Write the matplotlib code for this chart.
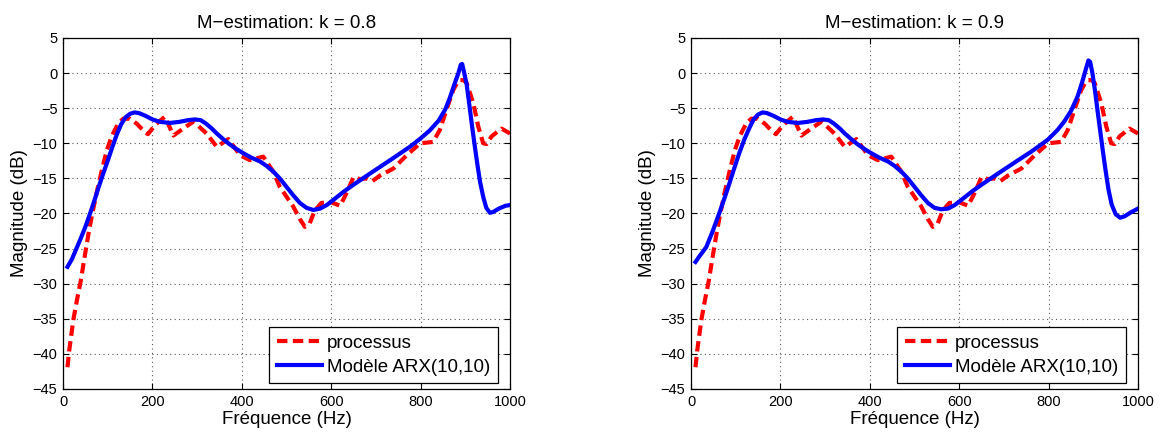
import matplotlib
matplotlib.use("Agg")
import matplotlib.pyplot as plt

plt.rcParams['font.family'] = ['Liberation Sans', 'DejaVu Sans']

# measured frequency response of the process (same in both panels)
freq_proc = [10, 14, 23, 31, 40, 47, 57, 64, 75, 87, 98, 109, 124, 135, 150, 165,
             180, 190, 206, 228, 247, 269, 292, 321, 344, 370, 396, 418, 448, 470,
             485, 515, 530, 541, 552, 563, 578, 600, 620, 635, 650, 664, 679, 692,
             709, 739, 769, 799, 828, 843, 858, 873, 881, 888, 896, 903, 918, 929,
             940, 948, 959, 981, 1000]
mag_proc = [-41.9, -39.5, -35.2, -32.4, -29.5, -26.7, -22.9, -20.5, -17.1, -13.8,
            -11.0, -9.0, -7.1, -6.5, -6.5, -7.2, -8.2, -8.7, -7.4, -6.2, -8.9, -7.9,
            -6.9, -8.6, -10.5, -9.4, -11.7, -12.4, -11.9, -14.0, -16.2, -19.0, -20.8,
            -21.9, -21.4, -19.6, -18.5, -18.4, -18.9, -17.0, -14.8, -15.1, -15.0,
            -15.4, -14.6, -13.6, -11.7, -10.0, -9.8, -8.1, -5.2, -2.4, -1.5, -1.0,
            -1.0, -1.4, -4.3, -7.6, -10.0, -10.1, -9.0, -7.9, -8.6]

# ARX(10,10) model, k = 0.8
freq_arx_08 = [10, 20, 30, 40, 50, 60, 70, 80, 90, 100, 110, 120, 130, 140, 150,
               160, 170, 185, 200, 217, 239, 260, 280, 295, 308, 320, 333, 344, 360,
               374, 390, 403, 420, 441, 455, 470, 485, 500, 515, 530, 545, 560, 575,
               590, 610, 630, 650, 687, 732, 776, 800, 820, 840, 855, 865, 875, 884,
               890, 893, 897, 903, 909, 915, 921, 927, 933, 940, 947, 955, 962, 975,
               990, 1000]
mag_arx_08 = [-27.6, -26.5, -25.0, -23.5, -21.9, -20.1, -18.2, -16.2, -14.3, -12.5,
              -10.6, -8.8, -7.3, -6.3, -5.8, -5.6, -5.7, -6.1, -6.6, -6.95, -7.1,
              -6.95, -6.7, -6.6, -6.7, -7.2, -7.9, -8.6, -9.5, -10.2, -10.9, -11.4,
              -12.0, -12.6, -13.2, -14.0, -15.0, -16.2, -17.4, -18.5, -19.2, -19.5,
              -19.3, -18.8, -17.8, -16.8, -15.9, -14.3, -12.4, -10.5, -9.3, -8.2,
              -6.8, -5.2, -3.6, -1.7, -0.1, 1.2, 1.3, 0.2, -1.6, -4.5, -7.5, -10.3,
              -13.0, -15.5, -17.6, -19.2, -19.9, -19.8, -19.3, -18.9, -18.8]

# ARX(10,10) model, k = 0.9
freq_arx_09 = [10, 20, 34, 48, 63, 75, 86, 97, 108, 119, 130, 140, 150, 160, 170,
               185, 200, 217, 239, 260, 280, 295, 308, 320, 333, 344, 360, 374, 390,
               403, 420, 441, 455, 470, 485, 500, 515, 530, 545, 560, 575, 590, 610,
               630, 650, 687, 732, 761, 798, 820, 835, 850, 865, 875, 884, 889, 893,
               898, 904, 910, 916, 922, 928, 934, 941, 950, 960, 970, 985, 1000]
mag_arx_09 = [-26.9, -26.0, -24.8, -22.6, -20.0, -17.8, -15.7, -13.5, -11.4, -9.5,
              -7.9, -6.6, -5.9, -5.6, -5.7, -6.1, -6.6, -6.95, -7.1, -6.95, -6.7,
              -6.6, -6.7, -7.2, -7.9, -8.6, -9.5, -10.2, -10.9, -11.4, -12.0, -12.6,
              -13.2, -14.0, -15.0, -16.2, -17.4, -18.5, -19.2, -19.4, -19.3, -18.8,
              -17.8, -16.8, -15.9, -14.3, -12.4, -11.2, -9.5, -8.1, -6.9, -5.4,
              -3.3, -1.3, 0.7, 1.8, 1.6, 0.0, -2.6, -5.6, -8.5, -11.4, -14.1, -16.6,
              -18.7, -20.1, -20.6, -20.4, -19.8, -19.3]

titles = ['M\u2212estimation: k = 0.8', 'M\u2212estimation: k = 0.9']
models = [(freq_arx_08, mag_arx_08), (freq_arx_09, mag_arx_09)]
lefts = [63 / 1160, 691 / 1160]

fig = plt.figure(figsize=(11.6, 4.32), dpi=100)

for left, title, (fm, mm) in zip(lefts, titles, models):
    ax = fig.add_axes([left, 1 - 389 / 432, 447 / 1160, 351 / 432])
    ax.plot(freq_proc, mag_proc, color='#ff0000', lw=3, linestyle=(0, (2.5, 1.3)),
            label='processus')
    ax.plot(fm, mm, color='#0000ff', lw=3, label='Modèle ARX(10,10)')

    ax.set_xlim(0, 1000)
    ax.set_ylim(-45, 5)
    ax.set_xticks(range(0, 1001, 200))
    ax.set_yticks(range(-45, 6, 5))
    ax.grid(True, color='0.35', linestyle=(0, (1, 3)), linewidth=0.8)
    ax.tick_params(direction='in', top=True, right=True, length=4, width=0.8,
                   labelsize=10.5, pad=4)
    for s in ax.spines.values():
        s.set_linewidth(0.9)

    ax.set_title(title, fontsize=13.5, pad=7)
    ax.set_xlabel('Fréquence (Hz)', fontsize=13.5, labelpad=2)
    ax.set_ylabel('Magnitude (dB)', fontsize=13.5, labelpad=3)

    leg = ax.legend(loc='lower right', bbox_to_anchor=(0.973, 0.017), borderaxespad=0,
                    fontsize=13.5, fancybox=False, framealpha=1, edgecolor='black',
                    handlelength=2.4, handletextpad=0.3, labelspacing=0.35,
                    borderpad=0.4)
    leg.get_frame().set_linewidth(0.9)

fig.savefig('out.png', dpi=100)
